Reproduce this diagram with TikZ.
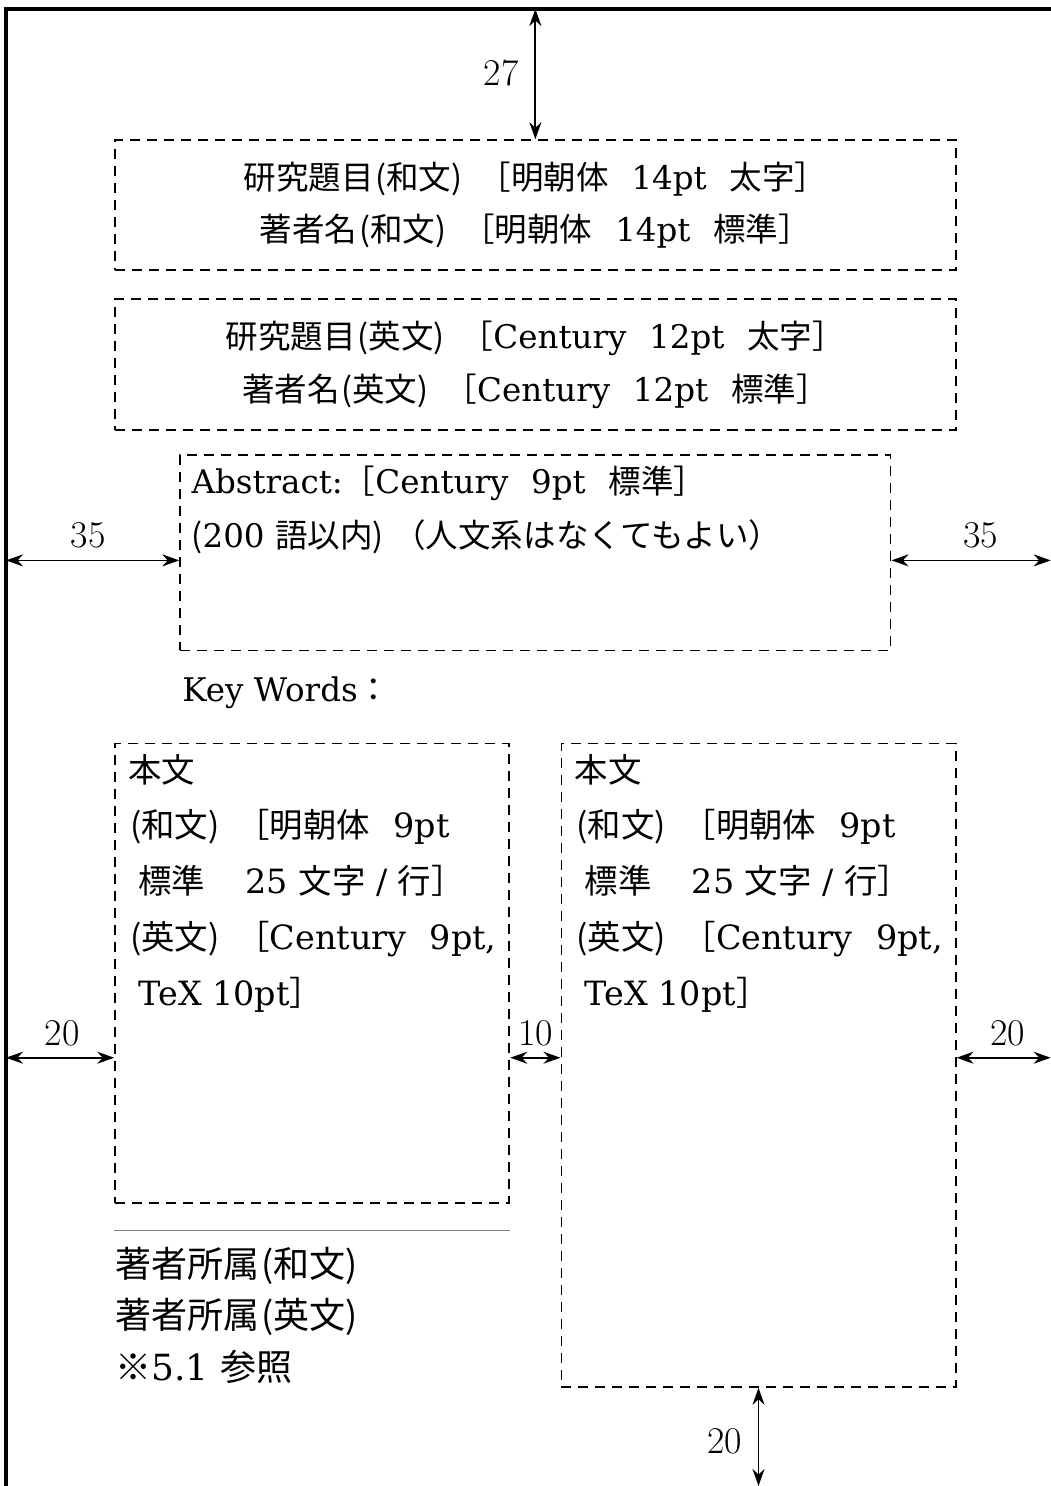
\documentclass[tikz,border=0pt]{standalone}
\usepackage{fontspec}
\newfontfamily\jp{Noto Sans CJK JP}
\newfontfamily\lat{DejaVu Serif}
\newcommand{\jtxt}[1]{{\jp #1}}
\newcommand{\jpar}[1]{{\jp\hspace{0.05em}(#1)}}
\newcommand{\wsp}{\hspace{0.7em}}
\newcommand{\pgap}{\hspace{0.5em}}
\usetikzlibrary{positioning,arrows.meta}

\begin{document}
\begin{tikzpicture}[x=1mm, y=1mm,
        font=\lat\fontsize{18.5}{30}\selectfont,
        pageline/.style={line width=2pt},
        dashedbox/.style={draw, line width=1pt, dash pattern=on 2mm off 1.4mm, inner sep=0pt},
        dimarrow/.style={line width=1pt, {Stealth[length=3.4mm,width=2.4mm]}-{Stealth[length=3.4mm,width=2.4mm]}},
        textblock/.style={align=left, inner sep=0pt, anchor=north west},
        coltext/.style={textblock, font=\lat\fontsize{19}{31.8}\selectfont},
        dimlabel/.style={inner sep=0pt, font=\rmfamily\fontsize{21.5}{24}\selectfont},
]
        \useasboundingbox (0,0) rectangle (210,-297);
        % page edge
        \coordinate (pagetl) at (1.2,-1.8);
        \coordinate (pagetr) at (210,-1.8);
        \coordinate (pagebl) at (1.2,-297);
        \draw[pageline] (pagebl) -- (pagetl) -- (pagetr);

        % title blocks
        \node[dashedbox, minimum width=168mm, minimum height=26mm, align=center] (titlejp) at (107,-41)
            {\jtxt{研究題目}\jpar{和文}\pgap\jtxt{［明朝体}\wsp 14pt\wsp\jtxt{太字］}\\
             \jtxt{著者名}\jpar{和文}\pgap\jtxt{［明朝体}\wsp 14pt\wsp\jtxt{標準］}};
        \node[dashedbox, minimum width=168mm, minimum height=26.2mm, align=center] (titleen) [below=5.4mm of titlejp]
            {\jtxt{研究題目}\jpar{英文}\pgap\jtxt{［}Century\wsp 12pt\wsp\jtxt{太字］}\\
             \jtxt{著者名}\jpar{英文}\pgap\jtxt{［}Century\wsp 12pt\wsp\jtxt{標準］}};

        % abstract
        \node[dashedbox, minimum width=142mm, minimum height=39mm] (abstractbox) at (107,-110.5) {};
        \node[textblock, font=\lat\fontsize{18.5}{30.6}\selectfont] (abstracttext) at ([xshift=2.4mm, yshift=-2.2mm]abstractbox.north west)
            {Abstract:\jtxt{［}Century\wsp 9pt\wsp\jtxt{標準］}\\
             \jtxt{(}200 \jtxt{語以内)\hspace{0.3em}（人文系はなくてもよい）}};
        \node[inner sep=0pt, anchor=west] (keywords) at (36.4,-138.4) {Key Words\jtxt{：}};

        % body columns
        \node[dashedbox, minimum width=78.8mm, minimum height=91.8mm] (leftcol) at (62.4,-194.5) {};
        \node[dashedbox, minimum width=78.8mm, minimum height=128.6mm] (rightcol) at (151.6,-212.9) {};
        \node[coltext] (lefttext) at ([xshift=2.8mm, yshift=-2.2mm]leftcol.north west)
            {\jtxt{本文}\\\jpar{和文}\pgap\jtxt{［明朝体}\wsp 9pt\\
             \hspace{2mm}\jtxt{標準}\hspace{1.2em}25 \jtxt{文字} / \jtxt{行］}\\
             \jpar{英文}\pgap\jtxt{［}Century\wsp 9pt,\\\hspace{2mm}TeX 10pt\jtxt{］}};
        \node[coltext] (righttext) at ([xshift=2.8mm, yshift=-2.2mm]rightcol.north west)
            {\jtxt{本文}\\\jpar{和文}\pgap\jtxt{［明朝体}\wsp 9pt\\
             \hspace{2mm}\jtxt{標準}\hspace{1.2em}25 \jtxt{文字} / \jtxt{行］}\\
             \jpar{英文}\pgap\jtxt{［}Century\wsp 9pt,\\\hspace{2mm}TeX 10pt\jtxt{］}};

        % footnote
        \draw[gray, line width=0.7pt] ([yshift=-5.4mm]leftcol.south west) -- ([yshift=-5.4mm]leftcol.south east);
        \node[textblock, font=\lat\fontsize{20.5}{29.2}\selectfont] (affil) at (23,-249.2)
            {\jtxt{著者所属}\jpar{和文}\\\jtxt{著者所属}\jpar{英文}\\\jtxt{※}5.1 \jtxt{参照}};

        % dimensions
        \coordinate (absrow) at (0,-112);
        \coordinate (colrow) at (0,-211.4);
        \draw[dimarrow] (pagetl -| titlejp.north) -- (titlejp.north);
        \node[dimlabel] (dimtop) at (100.2,-14.6) {27};
        \draw[dimarrow] (pagetl |- absrow) -- (abstractbox.west |- absrow);
        \draw[dimarrow] (abstractbox.east |- absrow) -- (pagetr |- absrow);
        \node[dimlabel] (dimabsl) at (17.6,-107) {35};
        \node[dimlabel] (dimabsr) at (196,-107) {35};
        \draw[dimarrow] (pagetl |- colrow) -- (leftcol.west |- colrow);
        \draw[dimarrow] (leftcol.east |- colrow) -- (rightcol.west |- colrow);
        \draw[dimarrow] (rightcol.east |- colrow) -- (pagetr |- colrow);
        \node[dimlabel] (dimcoll) at (12.4,-206.6) {20};
        \node[dimlabel] (dimgap) at (107,-206.6) {10};
        \node[dimlabel] (dimcolr) at (201.4,-206.6) {20};
        \draw[dimarrow] (rightcol.south) -- (rightcol.south |- pagebl);
        \node[dimlabel] (dimbottom) at (144.8,-288) {20};
\end{tikzpicture}
\end{document}
